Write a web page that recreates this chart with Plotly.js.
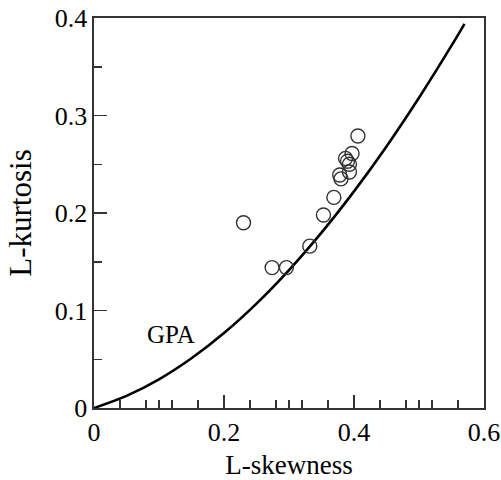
<!DOCTYPE html>
<html>
<head>
<meta charset="utf-8">
<script src="https://cdn.plot.ly/plotly-3.0.1.min.js"></script>
<style>html,body{margin:0;padding:0;background:#fff;}#chart{width:501px;height:480px;}</style>
</head>
<body>
<div id="chart"></div>
<script>
// GPA theoretical curve
const gpaSkew = [0, 0.05, 0.1, 0.15, 0.2, 0.25, 0.3, 0.35, 0.4, 0.45, 0.5, 0.55, 0.57];
const gpaKurt = [0, 0.0124, 0.0294, 0.0510, 0.0769, 0.1071, 0.1415, 0.1799, 0.2222, 0.2683, 0.3182, 0.3716, 0.3940];
// Sample L-moment ratios
const siteSkew = [0.230, 0.274, 0.296, 0.332, 0.353, 0.369, 0.378, 0.380, 0.387, 0.397, 0.393, 0.393, 0.406, 0.390];
const siteKurt = [0.190, 0.144, 0.144, 0.166, 0.198, 0.216, 0.239, 0.235, 0.256, 0.261, 0.250, 0.242, 0.279, 0.253];
const xTicks = [0, 0.2, 0.4, 0.6];
const xTickText = ['0', '0.2', '0.4', '0.6'];
const yTicks = [0, 0.1, 0.2, 0.3, 0.4];
const yTickText = ['0', '0.1', '0.2', '0.3', '0.4'];
const xTenths = [0, 0.1, 0.2, 0.3, 0.4, 0.5, 0.6];

const font = 'Liberation Serif, Times New Roman, serif';
const frame = '#333333';

const traces = [
  {x: gpaSkew, y: gpaKurt, mode: 'lines', line: {color: '#000', width: 2.6, shape: 'spline'}, hoverinfo: 'skip'},
  {x: siteSkew, y: siteKurt, mode: 'markers',
   marker: {symbol: 'circle-open', size: 14, color: '#333', line: {width: 1.4, color: '#333'}}},
  {x: [0], y: [0], xaxis: 'x2', mode: 'markers', marker: {opacity: 0}, hoverinfo: 'skip'}
];

const layout = {
  width: 501, height: 480,
  margin: {l: 93.5, r: 16.5, t: 18, b: 72},
  paper_bgcolor: '#fff', plot_bgcolor: '#fff',
  showlegend: false,
  font: {family: font, color: '#000', size: 26},
  xaxis: {
    range: [0, 0.6], tickvals: xTicks, ticktext: xTickText,
    ticks: 'inside', ticklen: 13, tickwidth: 1.5, tickcolor: frame,
    minor: {dtick: 0.04, ticks: 'inside', ticklen: 8, tickwidth: 1.5, tickcolor: frame, showgrid: false},
    showline: true, mirror: true, linecolor: frame, linewidth: 1.6,
    showgrid: false, zeroline: false,
    tickfont: {family: font, size: 26, color: '#000'},
    title: {text: 'L-skewness', font: {family: font, size: 27, color: '#000'}, standoff: 10},
    automargin: false
  },
  xaxis2: {
    overlaying: 'x', range: [0, 0.6], tickvals: xTenths, side: 'bottom',
    ticks: 'inside', ticklen: 8, tickwidth: 1.5, tickcolor: frame,
    showticklabels: false, showline: false, showgrid: false, zeroline: false, automargin: false
  },
  yaxis: {
    range: [0, 0.4], tickvals: yTicks, ticktext: yTickText,
    ticks: 'inside', ticklen: 13, tickwidth: 1.5, tickcolor: frame,
    minor: {dtick: 0.05, ticks: 'inside', ticklen: 8, tickwidth: 1.5, tickcolor: frame, showgrid: false},
    showline: true, mirror: true, linecolor: frame, linewidth: 1.6,
    showgrid: false, zeroline: false,
    tickfont: {family: font, size: 26, color: '#000'},
    title: {text: 'L-kurtosis', font: {family: font, size: 31, color: '#000'}, standoff: 14},
    automargin: false
  },
  annotations: [
    {x: 0.118, y: 0.0754, xref: 'x', yref: 'y', text: 'GPA', showarrow: false,
     font: {family: font, size: 25, color: '#000'}, xanchor: 'center', yanchor: 'middle'}
  ]
};

Plotly.newPlot('chart', traces, layout, {displayModeBar: false, staticPlot: true});
</script>
</body>
</html>
